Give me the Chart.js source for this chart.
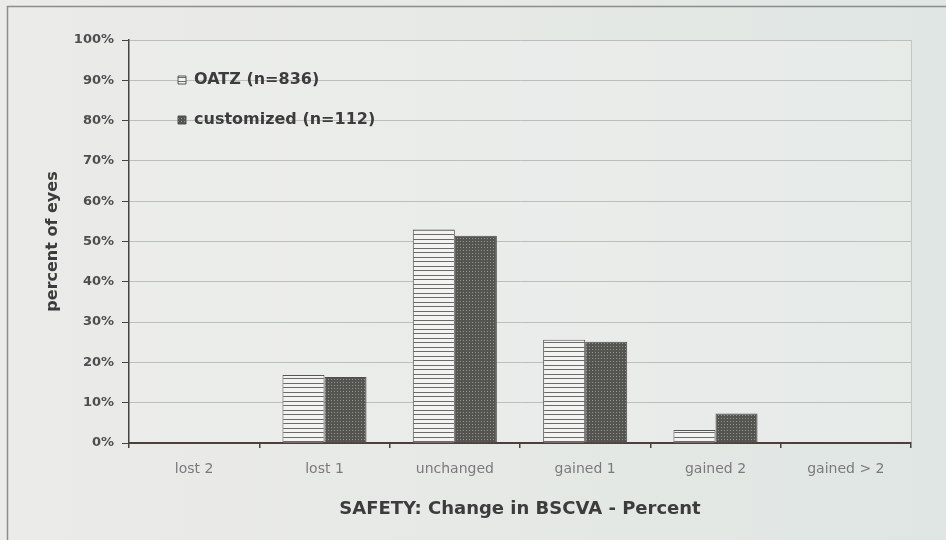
<!DOCTYPE html>
<html>
<head>
<meta charset="utf-8">
<script src="https://cdn.jsdelivr.net/npm/chart.js@4/dist/chart.umd.min.js"></script>
<style>
  html, body { margin: 0; padding: 0; background: #e8eae8; }
  #wrap { width: 946px; height: 540px; }
</style>
</head>
<body>
<div id="wrap"><canvas id="c" width="946" height="540"></canvas></div>
<script>
// Change in best spectacle-corrected visual acuity, lines lost / gained
const categories = ['lost 2', 'lost 1', 'unchanged', 'gained 1', 'gained 2', 'gained > 2'];
const oatzValues = [0, 16.9, 53.0, 25.6, 3.2, 0];
const customizedValues = [0, 16.4, 51.4, 25.1, 7.3, 0];
const seriesLabels = ['OATZ (n=836)', 'customized (n=112)'];
const yTicks = [0, 10, 20, 30, 40, 50, 60, 70, 80, 90, 100];
const xTitle = 'SAFETY: Change in BSCVA - Percent';
const yTitle = 'percent of eyes';

const FONT = "'DejaVu Sans', Verdana, sans-serif";

// horizontal-stripe fill
function stripePattern() {
  const t = document.createElement('canvas');
  t.width = 8; t.height = 9;
  const g = t.getContext('2d');
  g.fillStyle = '#f3f3f1';
  g.fillRect(0, 0, 8, 9);
  g.fillStyle = '#6a6a6a';
  g.fillRect(0, 0, 8, 1);
  g.fillRect(0, 5, 8, 1);
  return g.createPattern(t, 'repeat');
}

// dense cross-hatch fill
function hatchPattern() {
  const t = document.createElement('canvas');
  t.width = 3; t.height = 3;
  const g = t.getContext('2d');
  g.fillStyle = '#545451';
  g.fillRect(0, 0, 3, 3);
  g.fillStyle = '#93938f';
  g.fillRect(1, 1, 1, 1);
  return g.createPattern(t, 'repeat');
}

const backdrop = {
  id: 'backdrop',
  beforeDraw(chart) {
    const { ctx, chartArea: a, width, height } = chart;
    ctx.save();
    const grad = ctx.createLinearGradient(0, 0, width, 0);
    grad.addColorStop(0, '#ebebe9');
    grad.addColorStop(0.5, '#e6e9e6');
    grad.addColorStop(1, '#dfe6e3');
    ctx.fillStyle = grad;
    ctx.fillRect(0, 0, width, height);
    // outer frame
    ctx.strokeStyle = '#8c8c8c';
    ctx.lineWidth = 1.5;
    ctx.strokeRect(7.5, 6.5, width + 20, height + 20);
    // plot area
    ctx.fillStyle = 'rgba(238,240,238,0.5)';
    ctx.fillRect(a.left, a.top, a.right - a.left, a.bottom - a.top);
    ctx.strokeStyle = '#c4c6c4';
    ctx.lineWidth = 1;
    ctx.beginPath();
    ctx.moveTo(a.right + 0.5, a.top);
    ctx.lineTo(a.right + 0.5, a.bottom);
    ctx.stroke();
    ctx.restore();
  }
};

// place the legend block inside the plot, toward its upper left
const legendNudge = {
  id: 'legendNudge',
  afterLayout(chart) {
    const lg = chart.legend;
    if (lg) {
      lg.left = chart.chartArea.left + 25;
      lg.top = chart.chartArea.top + 8;
    }
  }
};

new Chart(document.getElementById('c'), {
  type: 'bar',
  data: {
    labels: categories,
    datasets: [
      {
        label: seriesLabels[0],
        data: oatzValues,
        backgroundColor: stripePattern(),
        borderColor: '#555555',
        borderWidth: 1
      },
      {
        label: seriesLabels[1],
        data: customizedValues,
        backgroundColor: hatchPattern(),
        borderColor: '#505050',
        borderWidth: 1
      }
    ]
  },
  options: {
    responsive: false,
    animation: false,
    devicePixelRatio: 1,
    layout: { padding: { left: 0, top: 40, right: 35, bottom: 0 } },
    datasets: { bar: { categoryPercentage: 0.645, barPercentage: 1 } },
    plugins: {
      tooltip: { enabled: false },
      legend: {
        position: 'chartArea',
        align: 'start',
        labels: {
          boxWidth: 8,
          boxHeight: 8,
          padding: 24,
          color: '#3c3c3c',
          font: { family: FONT, size: 16, weight: 'bold' }
        }
      }
    },
    scales: {
      x: {
        type: 'category',
        offset: true,
        grid: {
          offset: true,
          drawOnChartArea: false,
          drawTicks: true,
          tickLength: 5,
          color: '#4a413b',
          lineWidth: 1.5
        },
        border: { display: true, color: '#4e4038', width: 2 },
        ticks: {
          padding: 13,
          color: '#7a7a7a',
          font: { family: FONT, size: 14 }
        },
        title: {
          display: true,
          text: xTitle,
          color: '#3c3c3c',
          font: { family: FONT, size: 18, weight: 'bold' },
          padding: { top: 0, bottom: 20 }
        },
        afterFit(s) { s.height = 97; }
      },
      y: {
        min: 0,
        max: 100,
        afterBuildTicks(s) { s.ticks = yTicks.map(v => ({ value: v })); },
        grid: {
          color: '#bcbebc',
          lineWidth: 1,
          tickLength: 7,
          tickColor: '#444444'
        },
        border: { display: true, color: '#444444', width: 1.5 },
        ticks: {
          padding: 8,
          color: '#4e4e4e',
          font: { family: FONT, size: 13, weight: 'bold' },
          callback: v => v + '%'
        },
        title: {
          display: true,
          text: yTitle,
          color: '#3c3c3c',
          font: { family: FONT, size: 16, weight: 'bold' },
          padding: { top: 43, bottom: 0 }
        },
        afterFit(s) { s.width = 129; }
      }
    }
  },
  plugins: [backdrop, legendNudge]
});
</script>
</body>
</html>
